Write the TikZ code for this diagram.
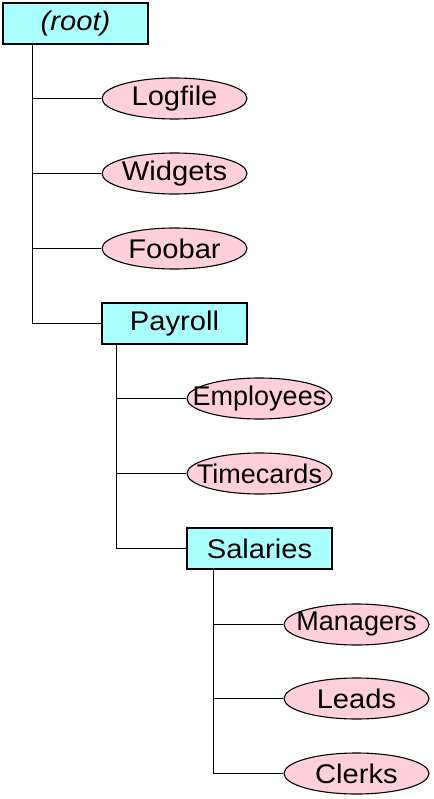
\documentclass[tikz,border=0pt]{standalone}
\usepackage{fontspec}
\setmainfont{Liberation Sans}[FakeStretch=1.08]
\newfontfamily\narrowfont{Liberation Sans}
\usetikzlibrary{shapes.geometric}
\usepackage{xcolor}
\definecolor{boxcyan}{RGB}{170,255,255}
\definecolor{leafpink}{RGB}{255,207,219}
\newcommand{\leaflabel}[1]{\makebox[0pt]{#1}}

\begin{document}
\begin{tikzpicture}[
    x=1pt, y=-1pt,
    every node/.style={font=\fontsize{27}{29}\selectfont, inner sep=0pt},
    folder/.style={draw, rectangle, fill=boxcyan, minimum width=145pt, minimum height=41pt, line width=1.1pt},
    leaf/.style={draw, ellipse, fill=leafpink, minimum width=145pt, minimum height=41pt, line width=1.1pt},
    link/.style={line width=1.1pt}
]
\useasboundingbox (0,0) rectangle (433,799);

% Raiz
\node[folder] (root) at (75.5,23.5) {\itshape (root)};

\node[leaf] (logfile) at (174.5,98.5) {\leaflabel{Logfile}};
\node[leaf] (widgets) at (174.5,173.5) {\leaflabel{Widgets}};
\node[leaf] (foobar) at (174.5,248.5) {\leaflabel{Foobar}};
\node[folder] (payroll) at (174.5,323.5) {Payroll};

\node[leaf] (employees) at (259.5,398.5) {\leaflabel{\narrowfont Employees}};
\node[leaf] (timecards) at (259.5,473.5) {\leaflabel{\narrowfont Timecards}};
\node[folder] (salaries) at (259.5,548.5) {Salaries};

\node[leaf] (managers) at (356.5,624.5) {\leaflabel{\narrowfont Managers}};
\node[leaf] (leads) at (356.5,698.5) {\leaflabel{Leads}};
\node[leaf] (clerks) at (356.5,773.5) {\leaflabel{Clerks}};

% Ligacoes
\draw[link] ([xshift=30pt]root.south west) |- (logfile.west);
\draw[link] ([xshift=30pt]root.south west) |- (widgets.west);
\draw[link] ([xshift=30pt]root.south west) |- (foobar.west);
\draw[link] ([xshift=30pt]root.south west) |- (payroll.west);

\draw[link] ([xshift=15pt]payroll.south west) |- (employees.west);
\draw[link] ([xshift=15pt]payroll.south west) |- (timecards.west);
\draw[link] ([xshift=15pt]payroll.south west) |- (salaries.west);

\draw[link] ([xshift=27pt]salaries.south west) |- (managers.west);
\draw[link] ([xshift=27pt]salaries.south west) |- (leads.west);
\draw[link] ([xshift=27pt]salaries.south west) |- (clerks.west);

\end{tikzpicture}
\end{document}
